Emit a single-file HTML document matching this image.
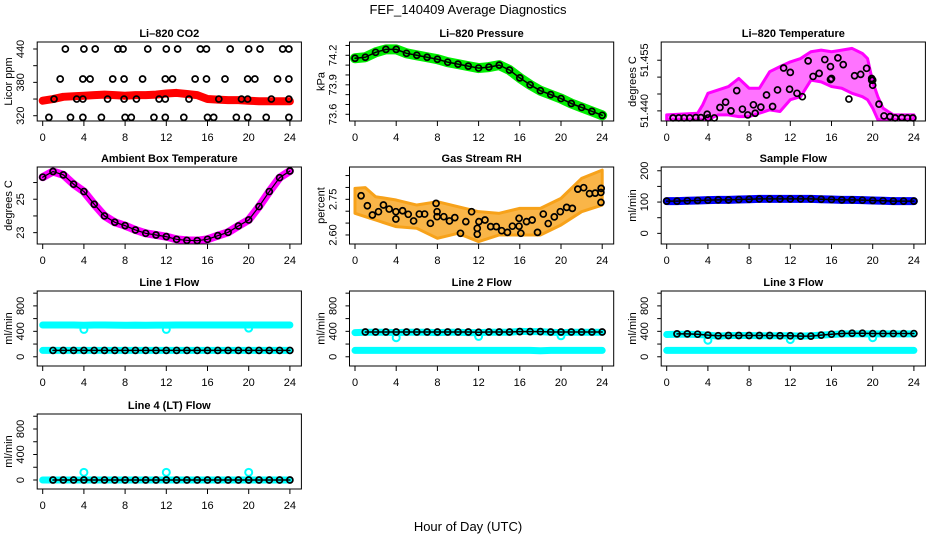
<!DOCTYPE html>
<html><head><meta charset="utf-8"><style>
html,body{margin:0;padding:0;background:#fff;}
svg{display:block;font-family:"Liberation Sans",Arial,sans-serif;}
</style></head><body>
<svg id="fig" width="936" height="540" viewBox="0 0 936 540" xmlns="http://www.w3.org/2000/svg">
<rect width="936" height="540" fill="#fff"/>
<text x="468" y="14" text-anchor="middle" font-size="13">FEF_140409  Average Diagnostics</text>
<text x="468" y="531" text-anchor="middle" font-size="13">Hour of Day (UTC)</text>
</svg>
<script>
const HOURS=[0,1,2,3,4,5,6,7,8,9,10,11,12,13,14,15,16,17,18,19,20,21,22,23,24];
const XTICKS=[0,4,8,12,16,20,24];

// CO2
const co2Red=[347,350,354,355,356,357,358,357,356,357,357,358,360,361,359,357,350,349,348,348,347,346,346,346,346];
const co2BlackHours=[2.2,4.0,5.1,7.3,7.8,10.2,12.0,13.1,15.3,15.9,18.2,20.0,21.1,23.3,23.9,
 1.7,3.9,4.6,6.8,7.9,9.7,11.9,12.6,14.8,15.9,17.7,19.9,20.6,22.8,23.9,
 1.1,3.3,3.9,6.3,7.9,9.1,11.3,11.9,14.2,17.1,19.3,19.9,22.2,23.9,
 0.6,2.7,3.9,5.7,8.0,8.6,10.8,11.9,13.7,16.0,16.6,18.8,19.9,21.7,23.9];
const co2BlackVals=[440,440,440,440,440,440,440,440,440,440,440,440,440,440,440,
 386,386,386,386,386,386,386,386,386,386,386,386,386,386,386,
 350,350,350,350,350,350,350,350,350,350,350,350,350,350,
 317,317,317,317,317,317,317,317,317,317,317,317,317,317,317];
// Pressure
const pressVals=[74.17,74.18,74.23,74.26,74.26,74.22,74.20,74.18,74.16,74.13,74.11,74.09,74.07,74.08,74.10,74.05,73.97,73.90,73.84,73.80,73.76,73.71,73.67,73.63,73.59];
// Li-820 temperature
const tempEnvHours=[0,3,3.5,4,5,6,7,8,9,10,11,12,13,14,15,16,17,18,19,19.5,20,20.5,21,22,24];
const tempUpper=[51.4388,51.4393,51.4418,51.4452,51.4462,51.4472,51.4496,51.4467,51.4467,51.4516,51.4531,51.4545,51.4555,51.4575,51.4580,51.4575,51.4580,51.4585,51.4570,51.4555,51.4486,51.4442,51.4408,51.4388,51.4388];
const tempLower=[51.4374,51.4374,51.4374,51.4374,51.4388,51.4388,51.4383,51.4383,51.4393,51.4403,51.4398,51.4433,51.4442,51.4491,51.4486,51.4472,51.4467,51.4452,51.4442,51.4433,51.4408,51.4374,51.4374,51.4374,51.4374];
const tempBlackHours=[0.62,1.17,1.69,2.24,2.83,3.32,3.93,4.03,4.62,5.17,5.72,6.24,6.80,7.35,7.87,8.42,8.59,9.14,9.69,10.28,10.76,11.35,11.93,12.0,12.65,13.17,13.73,14.21,14.8,15.35,15.9,15.9,16.0,16.62,17.14,17.69,18.24,18.83,19.41,19.9,19.9,20.0,20.0,20.61,21.1,21.69,22.18,22.83,23.38,23.9];
const tempBlackVals=[51.4379,51.4379,51.4379,51.4379,51.4380,51.4380,51.4390,51.4379,51.4379,51.4410,51.4426,51.4400,51.4460,51.4405,51.4388,51.4418,51.4393,51.4411,51.4447,51.4413,51.4462,51.4527,51.4464,51.4514,51.4452,51.4442,51.4548,51.4502,51.4511,51.4552,51.4493,51.4531,51.4496,51.4557,51.4537,51.4435,51.4504,51.4508,51.4526,51.4491,51.4496,51.4476,51.4491,51.4420,51.4385,51.4383,51.4379,51.4380,51.4379,51.4379];
// Ambient box temperature
const ambVals=[26.32,26.66,26.46,25.90,25.46,24.70,24.00,23.62,23.42,23.16,22.96,22.86,22.76,22.60,22.54,22.52,22.60,22.82,23.02,23.40,23.76,24.56,25.46,26.29,26.69];
// RH
const rhEnvHours=[0,1,2,4,6,8,10,12,14,16,18,20,22,24];
const rhUpper=[2.796,2.799,2.761,2.747,2.726,2.740,2.719,2.698,2.691,2.712,2.712,2.754,2.838,2.873];
const rhLower=[2.691,2.677,2.663,2.635,2.628,2.586,2.607,2.572,2.600,2.600,2.600,2.642,2.698,2.726];
const rhBlackHours=[0.59,1.2,1.69,2.28,2.76,3.32,3.97,3.97,4.62,5.17,5.69,6.24,6.76,7.32,7.87,7.97,7.97,8.62,9.17,9.69,10.24,10.76,11.32,11.87,11.87,12.03,12.62,13.17,13.72,14.24,14.8,15.28,15.93,15.93,16.1,16.65,17.2,17.72,18.28,18.76,19.35,19.93,20.55,21.1,21.63,22.2,22.77,23.32,23.87,23.9,23.88];
const rhBlackVals=[2.765,2.723,2.684,2.698,2.726,2.709,2.698,2.667,2.702,2.687,2.659,2.688,2.688,2.649,2.733,2.677,2.698,2.677,2.659,2.673,2.607,2.656,2.698,2.628,2.603,2.656,2.663,2.635,2.635,2.618,2.611,2.637,2.670,2.637,2.607,2.656,2.663,2.611,2.688,2.648,2.676,2.698,2.716,2.712,2.793,2.799,2.774,2.776,2.779,2.796,2.737];
// Sample flow
const sampleVals=[103,103,104,105,106,107,107,108,109,110,110,110,110,110,110,109,108,107,107,106,105,104,103,103,103];
// Line flows
const l1Black=[100,100,100,100,100,100,100,100,100,100,100,100,100,100,100,100,100,100,100,100,100,100,100,100,100];
const l1CyanTop=[500,500,500,500,495,500,500,498,495,497,495,498,497,500,500,500,500,500,500,500,500,500,500,500,500];
const l1CyanLow=[100,100,100,100,100,100,100,100,100,100,100,100,100,100,100,100,100,100,100,100,100,100,100,100,100];
const l1DipHours=[4,12,20]; const l1DipVals=[430,430,450];
const l2Black=[390,390,390,390,390,390,390,390,390,390,390,390,385,390,390,390,395,395,395,390,390,390,390,390,390];
const l2CyanTop=[380,385,385,385,380,385,385,385,380,385,385,380,380,385,385,385,400,395,395,385,380,385,385,385,385];
const l2CyanLow=[100,100,100,100,100,100,100,100,100,100,100,100,100,100,100,100,100,100,95,100,100,100,100,100,100];
const l2DipHours=[4,12,20]; const l2DipVals=[300,320,330];
const l3Black=[360,360,360,355,340,330,335,335,335,335,335,330,330,325,325,340,355,365,370,370,365,365,365,365,365];
const l3CyanTop=[350,355,355,350,340,325,335,335,335,330,330,330,330,325,330,340,350,360,360,360,360,360,360,360,360];
const l3CyanLow=[100,100,100,100,100,100,100,100,100,100,100,100,100,100,100,100,100,100,100,100,100,100,100,100,100];
const l3DipHours=[4,12,20]; const l3DipVals=[260,270,300];
const l4Black=[0,0,0,0,0,0,0,0,0,0,0,0,0,0,0,0,0,0,0,0,0,0,0,0,0];
const l4CyanLow=[0,0,0,0,0,0,0,0,0,0,0,0,0,0,0,0,0,0,0,0,0,0,0,0,0];
const l4DipHours=[4,12,20]; const l4DipVals=[120,120,120];

const NS="http://www.w3.org/2000/svg";
const svg=document.getElementById('fig');
const COLX=[42.7,355,666.7];
const ROWS=[[42,121],[167,244],[291,366],[414,489]];
const PXH=10.3;

function el(tag,parent,attrs){const e=document.createElementNS(NS,tag);for(const k in attrs)e.setAttribute(k,attrs[k]);parent.appendChild(e);return e;}

function panel(o){
  const g=el('g',svg,{});
  
  
  const x0=COLX[o.col], top=ROWS[o.row][0], bot=ROWS[o.row][1];
  const left=x0-5.5, right=x0+24*PXH+11.5;
  const sx=h=>x0+h*PXH;
  const sy=v=>bot-(v-o.ylim[0])/(o.ylim[1]-o.ylim[0])*(bot-top);
  const ctx={g,sx,sy};
  o.draw(ctx);
  const box=el('rect',g,{x:left,y:top,width:right-left,height:bot-top,fill:'none',stroke:'#000','stroke-width':1});
  
  
  const t=el('text',g,{x:(left+right)/2,y:top-5,'text-anchor':'middle','font-size':11,'font-weight':'bold'});
  t.textContent=o.title;
  
  
  // x axis
  const xa=el('g',g,{});
  
  
  XTICKS.forEach(h=>{
    el('line',xa,{x1:sx(h),x2:sx(h),y1:bot,y2:bot+5,stroke:'#000'});
    const tl=el('text',xa,{x:sx(h),y:bot+20,'text-anchor':'middle','font-size':11});
    tl.textContent=h;
    
    
  });
  // y axis
  const ya=el('g',g,{});
  
  
  const ax=left;
  o.yticks.forEach(v=>{el('line',ya,{x1:ax-4,x2:ax,y1:sy(v),y2:sy(v),stroke:'#000'});});
  o.ylabels.forEach((lab,i)=>{
    const v=o.ylabelVals[i];
    const tl=el('text',ya,{x:0,y:0,'text-anchor':'middle','font-size':11,transform:`translate(${ax-13},${sy(v)}) rotate(-90)`});
    tl.textContent=lab;
    
    
  });
  const yl=el('text',g,{x:0,y:0,'text-anchor':'middle','font-size':11,transform:`translate(${left-25},${(top+bot)/2}) rotate(-90)`});
  yl.textContent=o.ylab;
  
  
}

function band(c,hours,vals,color,w,name){
  const p=el('polyline',c.g,{points:hours.map((h,i)=>c.sx(h)+','+c.sy(vals[i])).join(' '),fill:'none',stroke:color,'stroke-width':w,'stroke-linejoin':'round','stroke-linecap':'round'});
  
  
}
function area(c,hours,up,lo,color,op,name){
  const pts=hours.map((h,i)=>c.sx(h)+','+c.sy(up[i])).concat(hours.slice().reverse().map((h,j)=>c.sx(h)+','+c.sy(lo[hours.length-1-j])));
  const p=el('polygon',c.g,{points:pts.join(' '),fill:color,'fill-opacity':op,stroke:color,'stroke-width':3,'stroke-linejoin':'round'});
  
  
}
function pts(c,hours,vals,color,name,r,sw){
  const g=el('g',c.g,{});
  
  
  hours.forEach((h,i)=>{
    const ci=el('circle',g,{cx:c.sx(h),cy:c.sy(vals[i]),r:r||3,fill:'none',stroke:color,'stroke-width':sw||1.7});
    
    
  });
}

panel({name:'co2-panel',col:0,row:0,title:'Li\u2013820 CO2',ylab:'Licor ppm',ylim:[310.5,452.6],yticks:[320,350,380,410,440],ylabels:['320','380','440'],ylabelVals:[320,380,440],
 draw:c=>{band(c,HOURS,co2Red,'#ff0000',8,'co2-red-series');pts(c,co2BlackHours,co2BlackVals,'#000','co2-black-points');}});
panel({name:'pressure-panel',col:1,row:0,title:'Li\u2013820 Pressure',ylab:'kPa',ylim:[73.532,74.335],yticks:[73.6,73.7,73.8,73.9,74.0,74.1,74.2,74.3],ylabels:['73.6','73.9','74.2'],ylabelVals:[73.6,73.9,74.2],
 draw:c=>{band(c,HOURS,pressVals,'#00ee00',10,'pressure-green-series');band(c,HOURS,pressVals,'#000',1.5,'pressure-black-line');pts(c,HOURS,pressVals,'#000','pressure-black-points');}});
panel({name:'li820-temperature-panel',col:2,row:0,title:'Li\u2013820 Temperature',ylab:'degrees C',ylim:[51.437,51.4604],yticks:[51.440,51.445,51.450,51.455],ylabels:['51.440','51.455'],ylabelVals:[51.440,51.455],
 draw:c=>{area(c,tempEnvHours,tempUpper,tempLower,'#ff00ff',0.55,'temperature-magenta-cloud');pts(c,tempBlackHours,tempBlackVals,'#000','temperature-black-points');}});
panel({name:'ambient-temperature-panel',col:0,row:1,title:'Ambient Box Temperature',ylab:'degrees C',ylim:[22.32,26.93],yticks:[23,24,25,26],ylabels:['23','25'],ylabelVals:[23,25],
 draw:c=>{band(c,HOURS,ambVals,'#ff00ff',8,'ambient-magenta-series');band(c,HOURS,ambVals,'#000',1.2,'ambient-black-line');pts(c,HOURS,ambVals,'#000','ambient-black-points');}});
panel({name:'rh-panel',col:1,row:1,title:'Gas Stream RH',ylab:'percent',ylim:[2.562,2.886],yticks:[2.60,2.65,2.70,2.75,2.80,2.85],ylabels:['2.60','2.75'],ylabelVals:[2.60,2.75],
 draw:c=>{area(c,rhEnvHours,rhUpper,rhLower,'#f7a21a',0.8,'rh-orange-cloud');pts(c,rhBlackHours,rhBlackVals,'#000','rh-black-points');}});
panel({name:'sample-flow-panel',col:2,row:1,title:'Sample Flow',ylab:'ml/min',ylim:[-34,212],yticks:[0,50,100,150,200],ylabels:['0','100','200'],ylabelVals:[0,100,200],
 draw:c=>{band(c,HOURS,sampleVals,'#0000ff',8,'sample-blue-series');band(c,HOURS,sampleVals,'#000',1.5,'sample-black-line');pts(c,HOURS,sampleVals,'#000','sample-black-points');}});
const FT=[0,200,400,600,800,1000];
function flowPanel(name,col,row,title,ylim,top,low,blk,dh,dv){
 panel({name,col,row,title,ylab:'ml/min',ylim,yticks:FT,ylabels:['0','400','800'],ylabelVals:[0,400,800],
  draw:c=>{ if(top)band(c,HOURS,top,'#00ffff',7,'cyan-upper-series');
   band(c,HOURS,low,'#00ffff',7,'cyan-lower-series');
   pts(c,dh,dv,'#00ffff','cyan-outlier-points',3.5,2);
   band(c,HOURS.slice(1),blk.slice(1),'#000',1.5,'black-line');
   pts(c,HOURS.slice(1),blk.slice(1),'#000','black-points');}});
}
flowPanel('line1-flow-panel',0,2,'Line 1 Flow',[-145,1034],l1CyanTop,l1CyanLow,l1Black,l1DipHours,l1DipVals);
flowPanel('line2-flow-panel',1,2,'Line 2 Flow',[-145,1034],l2CyanTop,l2CyanLow,l2Black,l2DipHours,l2DipVals);
flowPanel('line3-flow-panel',2,2,'Line 3 Flow',[-145,1034],l3CyanTop,l3CyanLow,l3Black,l3DipHours,l3DipVals);
flowPanel('line4-flow-panel',0,3,'Line 4 (LT) Flow',[-141,1035],null,l4CyanLow,l4Black,l4DipHours,l4DipVals);
</script>
</body></html>
